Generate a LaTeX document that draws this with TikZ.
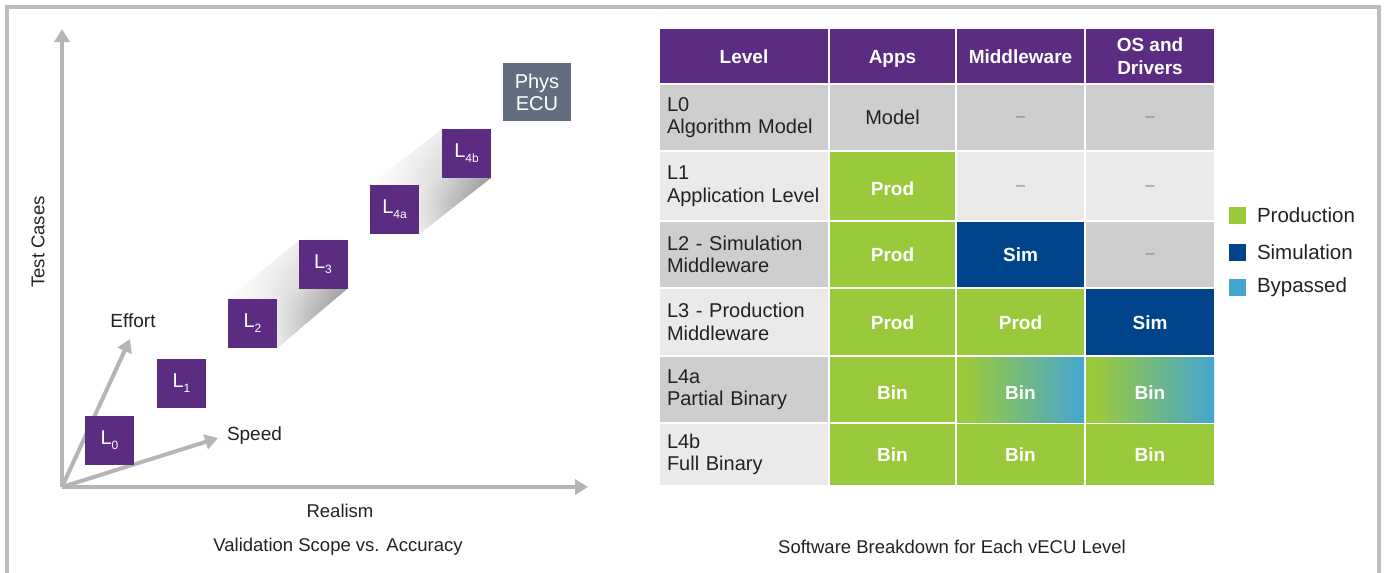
\documentclass[tikz,border=0pt]{standalone}
\usepackage{fontspec}
\setmainfont{Liberation Sans}
\usetikzlibrary{arrows.meta,fadings}

\definecolor{framegray}{HTML}{BDBDBD}
\definecolor{axisgray}{HTML}{B5B5B5}
\definecolor{lvpurple}{HTML}{5B2C82}
\definecolor{ecugray}{HTML}{626E80}
\definecolor{celldark}{HTML}{CECECE}
\definecolor{celllight}{HTML}{EBEAE9}
\definecolor{prodgreen}{HTML}{9ACA3C}
\definecolor{simblue}{HTML}{00448C}
\definecolor{bypassblue}{HTML}{44A6D0}
\definecolor{dashgray}{HTML}{7A8595}
\definecolor{inkblack}{HTML}{222222}

% green-to-blue blend used for partially bypassed binaries
\pgfdeclarehorizontalshading{binshade}{100bp}{color(0bp)=(prodgreen); color(29bp)=(prodgreen); color(75bp)=(bypassblue); color(100bp)=(bypassblue)}
% white veil that lets the trail fade out towards the lower level
\tikzfading[name=trailfade, left color=transparent!0, right color=transparent!100, middle color=transparent!65]

% one table cell: name, x1, x2, y1, y2, style, text
\newcommand\tcell[7]{%
  \node[cellbase, #6, minimum width={#3pt-#2pt}, minimum height={#5pt-#4pt}]
    (#1) at ({(#2+#3)/2},{(#4+#5)/2}) {#7};}
% level label cell: name, y1, y2, fill, text
\newcommand\lcell[5]{%
  \node[cellbase, fill=#4, minimum width=168pt, minimum height={#3pt-#2pt},
        text width=154pt, inner xsep=7pt, align=left, font=\fontsize{20}{22.5}\selectfont]
    (#1) at (744,{(#2+#3)/2}) {#5};}
\newcommand\lsub[1]{\raisebox{-5pt}{\fontsize{12}{12}\selectfont #1}}
% trail between two level boxes: four corners
\newcommand\trail[4]{%
  \shade[trailshade] #1 -- #2 -- #3 -- #4 -- cycle;
  \fill[white, path fading=trailfade, fading angle=40] #1 -- #2 -- #3 -- #4 -- cycle;}

\begin{document}
\begin{tikzpicture}[x=1pt,y=-1pt,
  every node/.style={inner sep=0pt, outer sep=0pt, text=inkblack},
  axisline/.style={draw=axisgray, line width=4pt, -{Triangle[length=13pt,width=15pt]}},
  lbox/.style={fill=lvpurple, minimum width=49pt, minimum height=49pt,
               text=white, font=\fontsize{20}{22}\selectfont},
  lbl/.style={font=\fontsize{19}{22}\selectfont},
  captxt/.style={font=\fontsize{18.5}{22}\selectfont},
  cellbase/.style={inner sep=0pt, align=center},
  oneline/.style={text height=14pt, text depth=0pt},
  lowline/.style={text height=19pt, text depth=0pt},
  headcell/.style={fill=lvpurple, text=white, font=\bfseries\fontsize{19}{22.5}\selectfont},
  darkcell/.style={fill=celldark},
  lightcell/.style={fill=celllight},
  modelcell/.style={darkcell, oneline, font=\fontsize{20}{22}\selectfont},
  prodcell/.style={fill=prodgreen, text=white, oneline, font=\bfseries\fontsize{19}{22}\selectfont},
  simcell/.style={fill=simblue, text=white, oneline, font=\bfseries\fontsize{19}{22}\selectfont},
  bincell/.style={shade, shading=binshade, text=white, oneline, font=\bfseries\fontsize{19}{22}\selectfont},
  dashtxt/.style={text=dashgray, text height=8.4pt, text depth=0pt, font=\fontsize{16}{16}\selectfont},
  legsq/.style={minimum width=17pt, minimum height=17pt},
  legtxt/.style={anchor=west, font=\fontsize{20.5}{22}\selectfont},
  trailshade/.style={top color=black!56, bottom color=white, middle color=black!18, shading angle=-140}
]
\useasboundingbox (0,0) rectangle (1385,573);

% outer frame (open at the bottom edge)
\begin{scope}
  \clip (0,0) rectangle (1385,573);
  \draw[framegray, line width=4pt] (7,7) rectangle (1379,640);
\end{scope}

% ---------------- left chart ----------------
\coordinate (O) at (62,487);
\coordinate (ytip) at (62,29);
\coordinate (xtip) at (588,487);
\coordinate (efftip) at (130,339);
\coordinate (spdtip) at (218,438);

% fading trails between level boxes
\trail{(299,240)}{(228,299)}{(277,348)}{(347,289)}
\trail{(442,129)}{(370,185)}{(419,234)}{(491,178)}

\draw[axisline] (O) -- (ytip);
\draw[axisline] (O) -- (xtip);
\draw[axisline] (O) -- (efftip);
\draw[axisline] (O) -- (spdtip);

\node[lbox] (L0) at (109.5,440.5) {L\lsub{0}};
\node[lbox] (L1) at (181.5,383.5) {L\lsub{1}};
\node[lbox] (L2) at (252.5,323.5) {L\lsub{2}};
\node[lbox] (L3) at (323,264.5) {L\lsub{3}};
\node[lbox] (L4a) at (394.5,209.5) {L\lsub{4a}};
\node[lbox] (L4b) at (466.5,153.5) {L\lsub{4b}};
\node[fill=ecugray, minimum width=68pt, minimum height=58pt, text=white, align=center,
      font=\fontsize{20}{22}\selectfont] (ecu) at (537,92) {Phys\\ECU};

\node[lbl] (effort) at (133,321) {Effort};
\node[lbl, anchor=west] (speed) at (227,436) {Speed};
\node[captxt] (realism) at (340,511) {Realism};
\node[captxt, rotate=90] (tests) at (38,242) {Test Cases};
\node[captxt] (capL) at (338,547) {Validation Scope vs. Accuracy};

% ---------------- right table ----------------
% header
\tcell{hLevel}{660}{828}{29}{83}{headcell, oneline}{Level}
\tcell{hApps}{830}{955}{29}{83}{headcell, oneline}{Apps}
\tcell{hMid}{957}{1084}{29}{83}{headcell, oneline}{Middleware}
\tcell{hOS}{1086}{1214}{29}{83}{headcell}{OS and\\Drivers}
% L0
\lcell{r0}{85}{150}{celldark}{L0\\Algorithm Model}
\tcell{r0a}{830}{955}{85}{150}{modelcell}{Model}
\tcell{r0m}{957}{1084}{85}{150}{darkcell, dashtxt}{--}
\tcell{r0o}{1086}{1214}{85}{150}{darkcell, dashtxt}{--}
% L1
\lcell{r1}{152}{220}{celllight}{L1\\Application Level}
\tcell{r1a}{830}{955}{152}{220}{prodcell, lowline}{Prod}
\tcell{r1m}{957}{1084}{152}{220}{lightcell, dashtxt}{--}
\tcell{r1o}{1086}{1214}{152}{220}{lightcell, dashtxt}{--}
% L2
\lcell{r2}{222}{287}{celldark}{L2 - Simulation\\Middleware}
\tcell{r2a}{830}{955}{222}{287}{prodcell}{Prod}
\tcell{r2m}{957}{1084}{222}{287}{simcell}{Sim}
\tcell{r2o}{1086}{1214}{222}{287}{darkcell, dashtxt}{--}
% L3
\lcell{r3}{289}{355}{celllight}{L3 - Production\\Middleware}
\tcell{r3a}{830}{955}{289}{355}{prodcell}{Prod}
\tcell{r3m}{957}{1084}{289}{355}{prodcell}{Prod}
\tcell{r3o}{1086}{1214}{289}{355}{simcell}{Sim}
% L4a
\lcell{r4}{357}{422}{celldark}{L4a\\Partial Binary}
\tcell{r4a}{830}{955}{357}{422}{prodcell, lowline}{Bin}
\tcell{r4m}{957}{1084}{357}{422}{bincell, lowline}{Bin}
\tcell{r4o}{1086}{1214}{357}{422}{bincell, lowline}{Bin}
% L4b
\lcell{r5}{424}{485}{celllight}{L4b\\Full Binary}
\tcell{r5a}{830}{955}{424}{485}{prodcell}{Bin}
\tcell{r5m}{957}{1084}{424}{485}{prodcell}{Bin}
\tcell{r5o}{1086}{1214}{424}{485}{prodcell}{Bin}

% legend
\node[legsq, fill=prodgreen] (kProd) at (1237.5,215.5) {};
\node[legsq, fill=simblue] (kSim) at (1237.5,252.5) {};
\node[legsq, fill=bypassblue] (kByp) at (1237.5,287.5) {};
\node[legtxt] (tProd) at (1257,215.5) {Production};
\node[legtxt] (tSim) at (1257,252.5) {Simulation};
\node[legtxt] (tByp) at (1257,287.5) {Bypassed};

\node[captxt] (capR) at (952,547) {Software Breakdown for Each vECU Level};
\end{tikzpicture}
\end{document}
